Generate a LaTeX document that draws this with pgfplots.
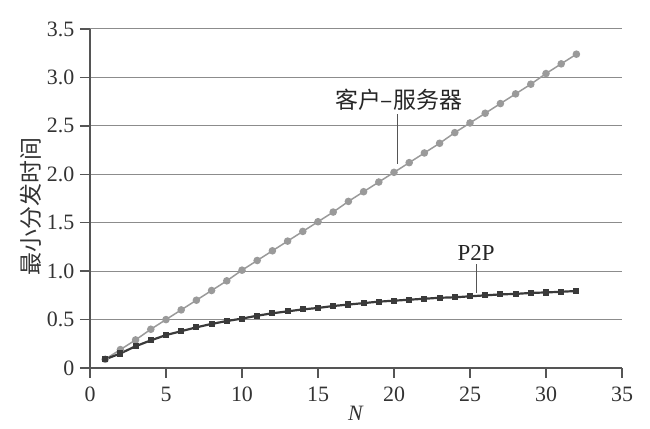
\documentclass[border=0pt]{standalone}
\usepackage{fontspec}
\usepackage{pgfplots}
\pgfplotsset{compat=1.18}
\setmainfont{Liberation Serif}
\newfontfamily\cjk{Noto Sans CJK SC}
\definecolor{csgray}{HTML}{9A9A9A}
\definecolor{p2pdark}{HTML}{3A3A3A}
\definecolor{gridgray}{HTML}{8C8C8C}
\definecolor{axgray}{HTML}{555555}

\pgfplotstableread{
N  t
1  0.09
2  0.19
3  0.29
4  0.40
5  0.50
6  0.60
7  0.70
8  0.80
9  0.90
10 1.01
11 1.11
12 1.21
13 1.31
14 1.41
15 1.51
16 1.61
17 1.72
18 1.82
19 1.92
20 2.02
21 2.12
22 2.22
23 2.32
24 2.43
25 2.53
26 2.63
27 2.73
28 2.83
29 2.93
30 3.04
31 3.14
32 3.24
}\clientserver

\pgfplotstableread{
N  t
1  0.09
2  0.15
3  0.225
4  0.285
5  0.34
6  0.38
7  0.42
8  0.455
9  0.485
10 0.51
11 0.54
12 0.565
13 0.585
14 0.605
15 0.62
16 0.64
17 0.655
18 0.67
19 0.685
20 0.695
21 0.705
22 0.715
23 0.725
24 0.73
25 0.74
26 0.75
27 0.76
28 0.765
29 0.775
30 0.78
31 0.787
32 0.795
}\ptwop

\begin{document}
\fontsize{11}{13}\selectfont
\begin{tikzpicture}
\begin{axis}[
    name=ax,
    scale only axis,
    width=266bp, height=169.5bp,
    xmin=0, xmax=35, ymin=0, ymax=3.5,
    axis x line=bottom, axis y line=left,
    axis line style={axgray, line width=0.8pt, -},
    xtick={0,5,...,35},
    ytick={0,0.5,...,3.5},
    yticklabels={0,0.5,1.0,1.5,2.0,2.5,3.0,3.5},
    x tick style={axgray, line width=0.7pt},
    y tick style={axgray, line width=0.7pt},
    tick align=outside,
    major tick length=5bp,
    ymajorgrids,
    grid style={gridgray, line width=0.5pt},
    /pgf/number format/assume math mode=true,
    tick label style={font=\fontsize{11}{13}\selectfont, text=black!80},
    yticklabel style={xshift=1bp},
    xticklabel style={yshift=-0.5bp},
    xlabel={\textit{N}},
    xlabel style={font=\fontsize{11}{13}\selectfont, text=black!80, yshift=5bp},
    ylabel={\cjk 最小分发时间},
    ylabel style={font=\fontsize{11.5}{13}\selectfont, text=black!80, yshift=-5bp, xshift=-4bp},
    clip=false,
]
\addplot[csgray, line width=0.75pt, mark=*, mark size=1.5bp,
    mark options={fill=csgray, draw=csgray}] table[x=N, y=t] {\clientserver};
\addplot[p2pdark, line width=1.1pt, mark=square*, mark size=1.0bp,
    mark options={fill=p2pdark, draw=p2pdark}] table[x=N, y=t] {\ptwop};
\draw[axgray, line width=0.5pt] (axis cs:20.2,2.62) -- (axis cs:20.2,2.11);
\node[anchor=south, inner sep=1pt, text=black!85, font=\cjk\fontsize{11.5}{13}\selectfont]
    at (axis cs:20.3,2.63) {客户–服务器};
\draw[axgray, line width=0.5pt] (axis cs:25.4,1.07) -- (axis cs:25.4,0.77);
\node[anchor=south, inner sep=1pt, text=black!85, font=\fontsize{11.5}{13}\selectfont]
    at (axis cs:25.4,1.09) {P2P};
\end{axis}
\path ([xshift=-45bp, yshift=-30.5bp]ax.south west) rectangle ([xshift=14bp, yshift=14.5bp]ax.north east);
\end{tikzpicture}
\end{document}
